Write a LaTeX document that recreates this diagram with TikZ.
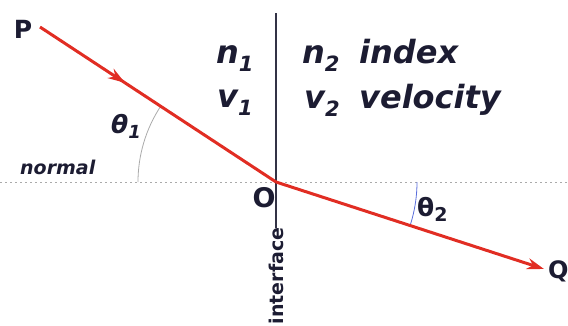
\documentclass[tikz,border=0pt]{standalone}
\usepackage{fontspec}
\setmainfont{DejaVu Sans}
\usetikzlibrary{arrows.meta,decorations.markings}
\definecolor{ink}{RGB}{28,28,50}
\definecolor{raycol}{RGB}{225,45,35}
\definecolor{arcgray}{RGB}{170,170,170}
\definecolor{arcblue}{RGB}{90,110,220}
\newcommand{\subs}[1]{\raisebox{-0.28em}{\fontsize{21}{21}\selectfont #1}}
\begin{document}
\begin{tikzpicture}[x=1pt,y=1pt,
  big/.style={text=ink,font=\bfseries\itshape\fontsize{32}{32}\selectfont,inner sep=0pt,anchor=base west},
  letter/.style={text=ink,font=\bfseries\fontsize{26}{26}\selectfont,inner sep=0pt},
  small/.style={text=ink,font=\bfseries\itshape\fontsize{19}{19}\selectfont,inner sep=0pt,anchor=base west},
  raystyle/.style={draw=raycol,line width=3pt}]
\useasboundingbox (0,0) rectangle (568,-325);
\coordinate (P) at (40,-27);
\coordinate (O) at (276,-182);
\coordinate (Q) at (544,-269);
\coordinate (nl) at (0,-182);
\coordinate (nr) at (568,-182);
\coordinate (itop) at (276,-13);
\coordinate (ibot) at (276,-228);
% normal
\draw[arcgray, dash pattern=on 2pt off 3pt, line width=0.8pt] (nl) -- (nr);
% interface
\draw[ink!90, line width=1.6pt] (itop) -- (ibot);
% arcs
\draw[arcgray, line width=0.8pt] (O) ++(180:138) arc[start angle=180, end angle=146.7, radius=138];
\draw[arcblue, line width=0.8pt] (O) ++(0:141) arc[start angle=0, end angle=-17.9, radius=141];
% rays
\draw[raystyle, postaction={decorate}, decoration={markings, mark=at position 0.36 with {\arrow{Stealth[length=17pt,width=11pt]}}}] (P) -- (O);
\draw[raystyle, -{Stealth[length=17pt,width=11pt]}] (O) -- (Q);
% labels
\node[letter, font=\bfseries\fontsize{25}{25}\selectfont] (lP) at (23,-29) {P};
\node[letter, font=\bfseries\fontsize{27}{27}\selectfont] (lO) at (264,-198) {O};
\node[letter, font=\bfseries\fontsize{24}{24}\selectfont, anchor=west] (lQ) at (548,-271) {Q};
\node[big] (n1) at (216,-63) {n\subs{1}};
\node[big] (v1) at (217,-107) {v\subs{1}};
\node[big] (n2) at (302,-63) {n\subs{2}};
\node[big] (idx) at (359,-63) {index};
\node[big] (v2) at (304,-108) {v\subs{2}};
\node[big] (vel) at (359,-108) {velocity};
\node[small] (nm) at (20,-174) {normal};
\node[text=ink,font=\bfseries\itshape\fontsize{25}{25}\selectfont,inner sep=0pt,anchor=base west] (t1) at (111,-133) {θ\raisebox{-0.2em}{\fontsize{18}{18}\selectfont 1}};
\node[text=ink,font=\bfseries\fontsize{25}{25}\selectfont,inner sep=0pt,anchor=base west] (t2) at (417,-216) {θ\raisebox{-0.2em}{\fontsize{19}{19}\selectfont 2}};
\node[text=ink,font=\bfseries\fontsize{19}{19}\selectfont,inner sep=0pt,rotate=90] (itf) at (276,-276) {interface};
\end{tikzpicture}
\end{document}
